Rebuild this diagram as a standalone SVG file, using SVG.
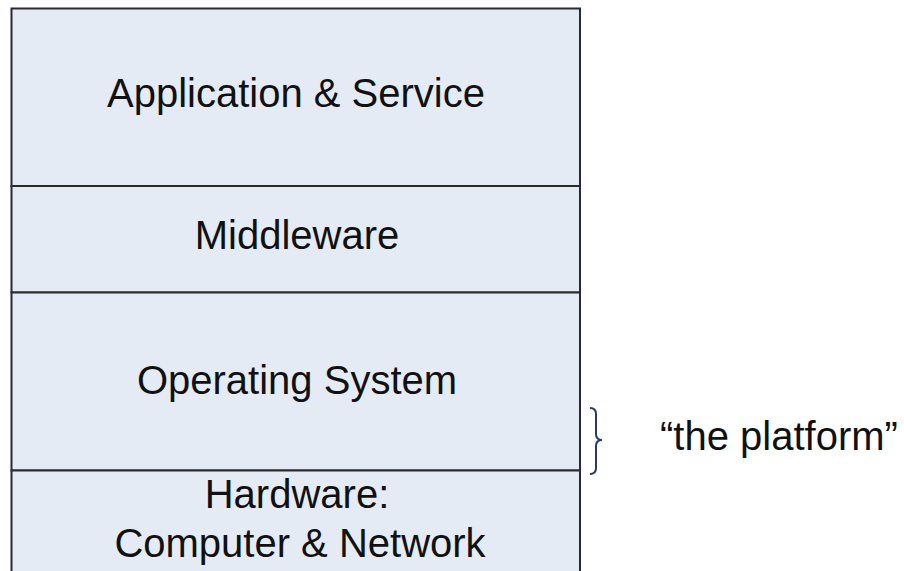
<svg xmlns="http://www.w3.org/2000/svg" width="904" height="571" viewBox="0 0 904 571">
<style>
.layer{fill:#e4ebf5;stroke:#2b2b2b;stroke-width:2}
.t{font-family:"Liberation Sans",Arial,sans-serif;font-size:40px;fill:#111;text-anchor:middle}
.brace{fill:none;stroke:#2a3a66;stroke-width:2}
</style>
<rect x="0" y="0" width="904" height="571" fill="#ffffff"/>
<g id="app"><rect class="layer" x="11.5" y="8.5" width="568.5" height="177.5"/><text class="t" x="296" y="107">Application &amp; Service</text></g>
<g id="middleware"><rect class="layer" x="11.5" y="186" width="568.5" height="106.5"/><text class="t" x="297" y="249">Middleware</text></g>
<g id="os"><rect class="layer" x="11.5" y="292.5" width="568.5" height="178"/><text class="t" x="297" y="394">Operating System</text></g>
<g id="hardware"><rect class="layer" x="11.5" y="470.5" width="568.5" height="110"/><text class="t" x="297" y="508">Hardware:</text><text class="t" x="300" y="557">Computer &amp; Network</text></g>
<g id="platform"><path class="brace" d="M590,408 Q596,408 596,414 L596,434 Q596,440 602,440 Q596,440 596,446 L596,468 Q596,474 590,474"/><text class="t" x="660" y="450" style="text-anchor:start">“the platform”</text></g>
</svg>
